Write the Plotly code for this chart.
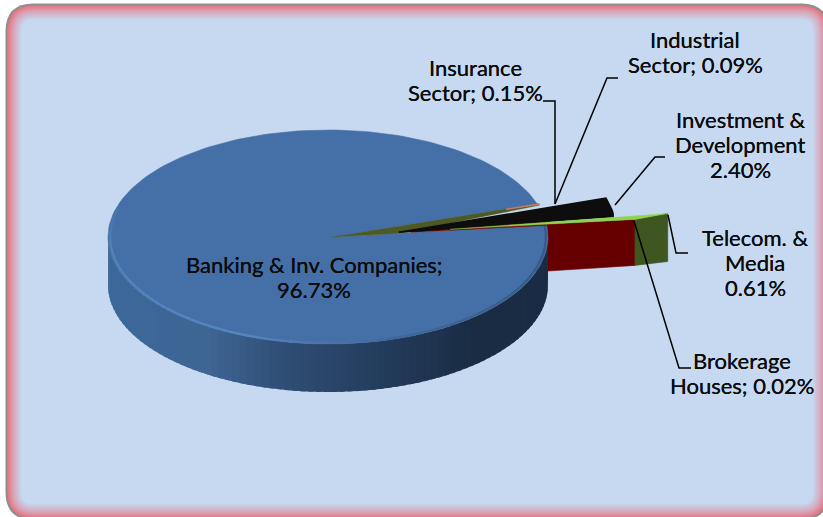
import math
import plotly.graph_objects as go

# ---- data ----
sectors = ["Insurance Sector", "Industrial Sector", "Investment & Development",
           "Telecom. & Media", "Brokerage Houses", "Banking & Inv. Companies"]
shares = [0.15, 0.09, 2.40, 0.61, 0.02, 96.73]
slice_labels = ["Insurance<br>Sector; 0.15%", "Industrial<br>Sector; 0.09%",
                "Investment &<br>Development<br>2.40%", "Telecom. &<br>Media<br>0.61%",
                "Brokerage<br>Houses; 0.02%", "Banking & Inv. Companies;<br>96.73%"]

# ---- pie geometry (pixels of the 823x517 canvas) ----
CX, CY, RX, RY, DEPTH = 328, 237, 220, 107, 48
APEX = (332, 237)
FIRST_ANGLE = 18.0
EXPLODE = [0.0, 0.01, 0.33, 0.56, 0.56, 0.0]
FONT = "Lato"
INK = "#0d0d0d"

edges = [FIRST_ANGLE]
for s in shares:
    edges.append(edges[-1] - s * 3.6)


def pt(r, deg, ex=0.0, mid=0.0, z=0.0):
    a, m = math.radians(deg), math.radians(mid)
    return (CX + RX * (r * math.cos(a) + ex * math.cos(m)),
            CY - RY * (r * math.sin(a) + ex * math.sin(m)) + z)


def arc(r, d0, d1, ex=0.0, mid=0.0, z=0.0, n=40):
    return [pt(r, d0 + (d1 - d0) * i / n, ex, mid, z) for i in range(n + 1)]


def hexmix(stops, t):
    t = max(0.0, min(1.0, t))
    for (t0, c0), (t1, c1) in zip(stops, stops[1:]):
        if t <= t1:
            f = (t - t0) / (t1 - t0)
            ch = [round(int(c0[i:i + 2], 16) * (1 - f) + int(c1[i:i + 2], 16) * f) for i in (1, 3, 5)]
            return "#%02x%02x%02x" % tuple(ch)
    return stops[-1][1]


fig = go.Figure()


def poly(points, fill, line=None, width=0.6):
    xs = [p[0] for p in points] + [points[0][0]]
    ys = [p[1] for p in points] + [points[0][1]]
    fig.add_trace(go.Scatter(x=xs, y=ys, mode="lines", fill="toself", fillcolor=fill,
                             line=dict(color=line or fill, width=width),
                             hoverinfo="skip", showlegend=False))


def stroke(points, color, width):
    fig.add_trace(go.Scatter(x=[p[0] for p in points], y=[p[1] for p in points], mode="lines",
                             line=dict(color=color, width=width), hoverinfo="skip", showlegend=False))


# exploded telecom / brokerage: cut face and outer wall, behind the big slice
t_top, t_bot = edges[3], edges[4]
b_mid = (edges[3] + edges[5]) / 2
ex = EXPLODE[3]
rim_top = pt(1.0, t_top, ex, b_mid)
rim_bot = pt(0.845, t_bot, ex, b_mid)
apex = pt(0, 0, ex, b_mid)
poly([apex, rim_bot, (rim_bot[0], rim_bot[1] + DEPTH - 2), (apex[0], apex[1] + DEPTH)], "#660000")
poly([rim_top, rim_bot, (rim_bot[0], rim_bot[1] + DEPTH - 2), (rim_top[0], rim_top[1] + DEPTH)], "#3f5620")

# big slice: wall, drawn from the left rim so each strip overlaps the one before
wall = [(0.0, "#3b6899"), (0.22, "#3e6594"), (0.40, "#2f4d73"), (0.62, "#233c5c"), (0.82, "#1a2c44"), (1.0, "#1a2c44")]
N = 90
start_a, stop_a = 180.0, 360.0 + edges[5]
for i in range(N):
    a0 = start_a + (stop_a - start_a) * i / N
    a1 = start_a + (stop_a - start_a) * (i + 1.6) / N
    a1 = min(a1, stop_a)
    p0, p1 = pt(1, a0), pt(1, a1)
    col = hexmix(wall, (p0[0] - (CX - RX)) / (2 * RX))
    poly([p0] + arc(1, a0, a1, n=3)[1:] + [(p1[0], p1[1] + DEPTH), (p0[0], p0[1] + DEPTH)], col, width=0)

# big slice: top face
TOP = "#4570a7"
poly([APEX] + arc(1, edges[5], edges[6], n=200), TOP)

# bevel along the rim of the top face
bevel = [(0.0, TOP), (0.12, "#5284bd"), (0.42, "#5586be"), (0.62, "#3f6898"), (0.85, "#375a86"), (1.0, "#375a86")]
for i in range(N):
    a0 = 160 + (stop_a - 160) * i / N
    a1 = 160 + (stop_a - 160) * (i + 1) / N
    p0, p1 = pt(0.99, a0), pt(0.99, a1)
    stroke([p0, p1], hexmix(bevel, (a0 - 160) / (stop_a - 160)), 2.2)

# small slices lying in the gap
poly([APEX, pt(1.005, edges[0]), pt(1.005, edges[2]), pt(0.33, edges[5])], "#4d5a24", width=0.3)
poly([pt(0.38, edges[3]), pt(1, edges[3]), pt(1, edges[5]), pt(0.38, edges[5])], "#7a0c0c", width=0.2)
poly([pt(0.85, edges[0]), pt(1.01, edges[0]), pt(1.01, edges[1]), pt(0.85, edges[1])], "#c9806f", width=0.5)

ex2 = EXPLODE[2]
mid2 = (edges[2] + edges[3]) / 2
b_apex = pt(0, 0, ex2, mid2, z=3)
b_rim = arc(0.985, edges[2], edges[3], ex2, mid2, n=8)
black = [b_apex] + b_rim + [(b_rim[-1][0], b_rim[-1][1] + 3)]
poly(black, "#0d0d0d", width=1.6)

poly([apex, rim_top, rim_bot], "#8ed450", width=0.4)

# leader lines
leaders = [
    [(543, 101), (555, 101), (555, 204)],
    [(618, 78), (607, 78), (555, 204)],
    [(665, 157), (655, 157), (615, 205)],
    [(668, 215), (676, 253), (688, 253)],
    [(634, 221), (679, 368), (691, 368)],
]
for ln in leaders:
    stroke(ln, "#000000", 1.5)

# labels: one text per line so the line pitch can follow the reference
label_pos = [(475, 80), (695, 52), (740, 144.5), (755, 262), (742, 373), (314, 277)]
LINE_PITCH = 25
annotations = []
for t, (x, y) in zip(slice_labels, label_pos):
    rows = t.split("<br>")
    for k, row in enumerate(rows):
        annotations.append(dict(x=x, y=y + (k - (len(rows) - 1) / 2) * LINE_PITCH, xref="x", yref="y",
                                text=row, showarrow=False, align="center",
                                font=dict(family=FONT, size=22, color=INK, weight=400,
                                          shadow="0 0 0.6px #000")))


# frame: nested rounded rectangles from the grey edge inwards
def rrect(x0, y0, x1, y1, r):
    return (f"M{x0 + r},{y0} L{x1 - r},{y0} Q{x1},{y0} {x1},{y0 + r} L{x1},{y1 - r} Q{x1},{y1} {x1 - r},{y1} "
            f"L{x0 + r},{y1} Q{x0},{y1} {x0},{y1 - r} L{x0},{y0 + r} Q{x0},{y0} {x0 + r},{y0} Z")


glow = [(0.0, "#8f8f8f"), (0.07, "#8f8f8f"), (0.12, "#e67583"), (0.45, "#d9a3b6"), (1.0, "#c6d9f1")]
shapes = []
STEPS = 17
for i in range(STEPS):
    d = i
    shapes.append(dict(type="path", path=rrect(5.5 + d, 3.5 + d, 829 - d, 520 - d, max(28 - d, 8)),
                       xref="x", yref="y", fillcolor=hexmix(glow, i / (STEPS - 1)),
                       line=dict(width=0), layer="below"))

fig.update_layout(
    width=823, height=517, autosize=False,
    margin=dict(l=0, r=0, t=0, b=0),
    paper_bgcolor="#ffffff", plot_bgcolor="rgba(0,0,0,0)",
    xaxis=dict(range=[0, 823], visible=False, fixedrange=True),
    yaxis=dict(range=[517, 0], visible=False, fixedrange=True),
    shapes=shapes, annotations=annotations, showlegend=False,
)
fig.write_html("out.html", config={"displayModeBar": False},
               post_script="document.body.style.margin='0';document.body.style.overflow='hidden';")
